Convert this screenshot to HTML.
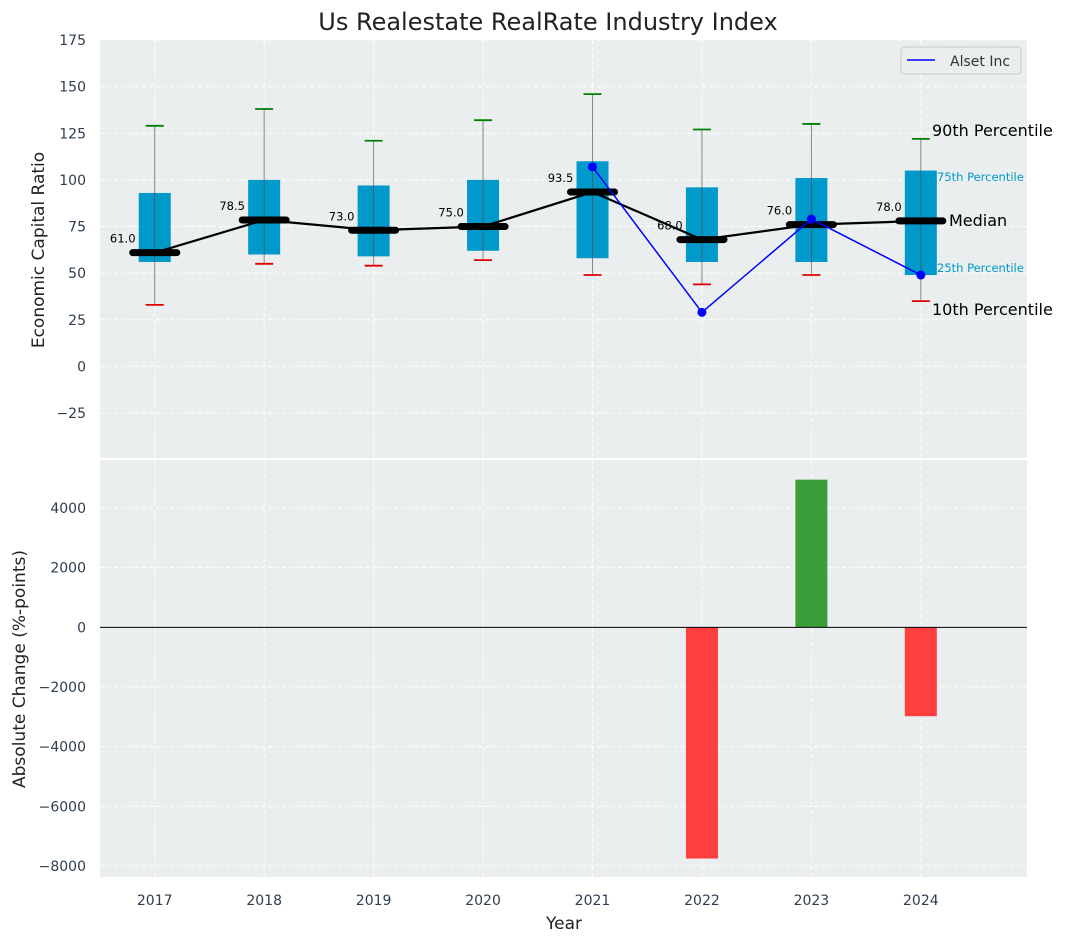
<!DOCTYPE html>
<html><head><meta charset="utf-8"><style>
body{margin:0;background:#fff;font-family:"Liberation Sans","DejaVu Sans",sans-serif;}
svg text{font-family:"DejaVu Sans","Liberation Sans",sans-serif;}
</style></head><body>
<svg id="chart" width="1067" height="942" xmlns="http://www.w3.org/2000/svg"></svg>
<script>
const years=[2017,2018,2019,2020,2021,2022,2023,2024];
const p10=[33,55,54,57,49,44,49,35];
const p25=[56,60,59,62,58,56,56,49];
const medians=[61,78.5,73,75,93.5,68,76,78];
const p75=[93,100,97,100,110,96,101,105];
const p90=[129,138,121,132,146,127,130,122];
const companyYears=[2021,2022,2023,2024];
const companyVals=[107,29,79,49];
const changeYears=[2022,2023,2024];
const changeVals=[-7750,4950,-2980];
const topTicks=[-25,0,25,50,75,100,125,150,175];
const botTicks=[-8000,-6000,-4000,-2000,0,2000,4000];

const NS="http://www.w3.org/2000/svg";
const svg=document.getElementById('chart');
function el(tag,attrs,parent){const e=document.createElementNS(NS,tag);for(const k in attrs)e.setAttribute(k,attrs[k]);(parent||svg).appendChild(e);return e;}
const L=100,R=1027,T1=40,B1=458,T2=460,B2=877;
const x=v=>L+(v-2016.5)/(2024.97-2016.5)*(R-L);
const y1=v=>T1+(175-v)/(175+49.1)*(B1-T1);
const y2=v=>T2+(5609-v)/(5609+8369)*(B2-T2);
const bw=32;

let bg=el('rect',{x:L,y:T1,width:R-L,height:B1-T1,fill:'#eaeeee'});

bg=el('rect',{x:L,y:T2,width:R-L,height:B2-T2,fill:'#eaeeee'});


years.forEach(yr=>{
 el('line',{x1:x(yr),x2:x(yr),y1:T1,y2:B1,stroke:'#fff','stroke-dasharray':'4,3'});
 el('line',{x1:x(yr),x2:x(yr),y1:T2,y2:B2,stroke:'#fff','stroke-dasharray':'4,3'});
 const t=el('text',{x:x(yr),y:B2+28,'text-anchor':'middle','font-size':14,fill:'#2d3e50'});t.textContent=yr;
 
});
topTicks.forEach(v=>{
 el('line',{x1:L,x2:R,y1:y1(v),y2:y1(v),stroke:'#fff','stroke-dasharray':'4,3'});
 const t=el('text',{x:L-14,y:y1(v)+5,'text-anchor':'end','font-size':14,fill:'#2d3e50'});t.textContent=v<0?'\u2212'+(-v):v;
 
});
botTicks.forEach(v=>{
 el('line',{x1:L,x2:R,y1:y2(v),y2:y2(v),stroke:'#fff','stroke-dasharray':'4,3'});
 const t=el('text',{x:L-14,y:y2(v)+5,'text-anchor':'end','font-size':14,fill:'#2d3e50'});t.textContent=v<0?'\u2212'+(-v):v;
 
});

years.forEach((yr,i)=>{
 const cx=x(yr);
 let w=el('line',{x1:cx,x2:cx,y1:y1(p90[i]),y2:y1(p10[i]),stroke:'#888','stroke-width':1});
 
 let b=el('rect',{x:cx-bw/2,y:y1(p75[i]),width:bw,height:y1(p25[i])-y1(p75[i]),fill:'#0099cc'});
 
 el('line',{x1:cx,x2:cx,y1:y1(p75[i]),y2:y1(p25[i]),stroke:'#555','stroke-width':0.8});
 let c=el('line',{x1:cx-9,x2:cx+9,y1:y1(p90[i]),y2:y1(p90[i]),stroke:'#008000','stroke-width':1.8});
 
 c=el('line',{x1:cx-9,x2:cx+9,y1:y1(p10[i]),y2:y1(p10[i]),stroke:'#e00000','stroke-width':1.8});
 
});
let ml=el('polyline',{points:years.map((yr,i)=>x(yr)+','+y1(medians[i])).join(' '),fill:'none',stroke:'#000','stroke-width':2.2});

years.forEach((yr,i)=>{
 const cx=x(yr),cy=y1(medians[i]);
 let m=el('line',{x1:cx-22,x2:cx+22,y1:cy,y2:cy,stroke:'#000','stroke-width':7,'stroke-linecap':'round'});
 
 let t=el('text',{x:cx-32,y:cy-10,'text-anchor':'middle','font-size':11.5,fill:'#000'});t.textContent=medians[i].toFixed(1);
 
});
let cl=el('polyline',{points:companyYears.map((yr,i)=>x(yr)+','+y1(companyVals[i])).join(' '),fill:'none',stroke:'#0000ff','stroke-width':1.5});

companyYears.forEach((yr,i)=>{
 let p=el('circle',{cx:x(yr),cy:y1(companyVals[i]),r:4.5,fill:'#0000ff'});
 
});
const ann=[[932,136,'90th Percentile',16,'#000'],[937,181,'75th Percentile',11.5,'#0099cc'],[949,226,'Median',16,'#000'],[937,272,'25th Percentile',11.5,'#0099cc'],[932,315,'10th Percentile',16,'#000']];
ann.forEach(a=>{let t=el('text',{x:a[0],y:a[1],'font-size':a[3],fill:a[4]});t.textContent=a[2];
 });
let lg=el('g',{});
el('rect',{x:901,y:47,width:120,height:27,rx:3,fill:'#eaeeee',stroke:'#ccc'},lg);
el('line',{x1:907,x2:935,y1:60,y2:60,stroke:'#0000ff','stroke-width':1.5},lg);
let lt=el('text',{x:950,y:66,'font-size':14,fill:'#333'},lg);lt.textContent='Alset Inc';

changeYears.forEach((yr,i)=>{
 const v=changeVals[i];
 let r=el('rect',{x:x(yr)-bw/2,y:Math.min(y2(v),y2(0)),width:bw,height:Math.abs(y2(v)-y2(0)),fill:v>=0?'#3a9e3a':'#ff3f3f'});
 
});
el('line',{x1:L,x2:R,y1:y2(0),y2:y2(0),stroke:'#000','stroke-width':1});

let t=el('text',{x:548,y:30,'text-anchor':'middle','font-size':24,fill:'#222'});t.textContent='Us Realestate RealRate Industry Index';

t=el('text',{x:0,y:0,'text-anchor':'middle','font-size':17,fill:'#222',transform:'translate(44,250) rotate(-90)'});t.textContent='Economic Capital Ratio';

t=el('text',{x:0,y:0,'text-anchor':'middle','font-size':17,fill:'#222',transform:'translate(25,669) rotate(-90)'});t.textContent='Absolute Change (%-points)';

t=el('text',{x:564,y:929,'text-anchor':'middle','font-size':17,fill:'#222'});t.textContent='Year';

</script>
</body></html>
